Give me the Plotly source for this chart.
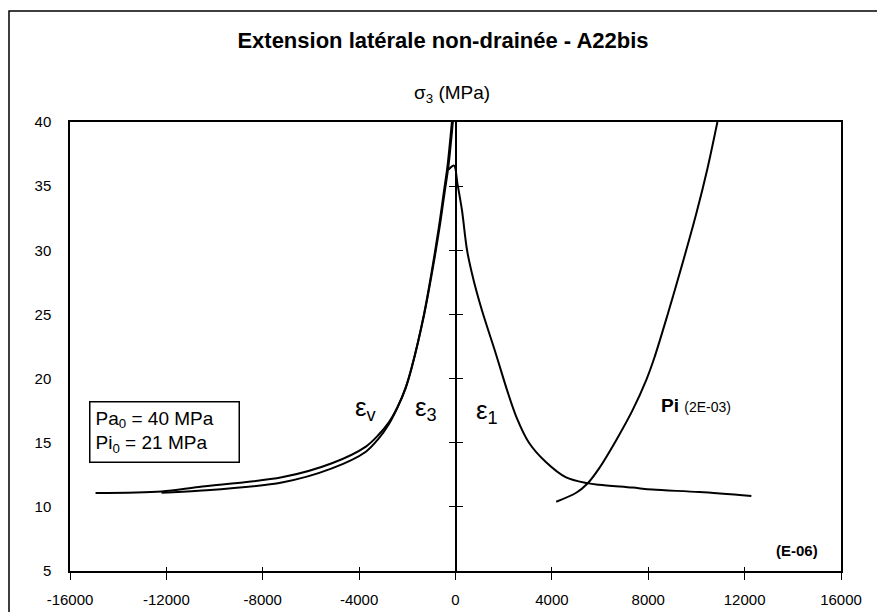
import plotly.graph_objects as go

# ---------------- data ----------------
eps_v_x = [-14940, -12200, -10660, -7210, -5130, -3720, -3200, -2760, -2400, -2060, -1810, -1310, -1000, -690, -480, -330, -150]
eps_v_y = [11.08, 11.2, 11.55, 12.3, 13.4, 14.7, 15.6, 16.6, 17.8, 19.3, 20.9, 25.0, 28.2, 31.8, 34.6, 36.6, 40.0]

eps_3_x = [-12200, -10660, -7210, -5130, -3720, -3200, -2780, -2420, -2070, -1815, -1300, -980, -660, -445, -290, -110]
eps_3_y = [11.1, 11.25, 11.9, 13.0, 14.3, 15.3, 16.4, 17.7, 19.3, 20.9, 25.0, 28.2, 31.8, 34.6, 36.6, 40.0]

eps_1_x = [-280, -60, 80, 270, 480, 760, 1100, 1680, 2140, 2550, 3050, 3750, 4590, 5470, 5960, 7340, 8170, 10120, 12280]
eps_1_y = [36.3, 36.6, 35.2, 33.1, 30.0, 27.6, 25.3, 21.9, 19.1, 16.9, 15.0, 13.5, 12.3, 11.85, 11.72, 11.5, 11.35, 11.15, 10.85]

pi_x = [4180, 5010, 5470, 5960, 6670, 7340, 7920, 8250, 8790, 9410, 10000, 10460, 10870]
pi_y = [10.4, 11.1, 11.8, 13.0, 15.2, 17.5, 19.9, 21.6, 24.9, 28.9, 32.9, 36.4, 40.0]

x_ticks = [-16000, -12000, -8000, -4000, 0, 4000, 8000, 12000, 16000]
x_tick_labels = ["-16000", "-12000", "-8000", "-4000", "0", "4000", "8000", "12000", "16000"]
y_ticks = [5, 10, 15, 20, 25, 30, 35, 40]
y_axis_cross_ticks = [10, 15, 20, 25, 30, 35]

title_text = "<b>Extension latérale non-drainée - A22bis</b>"
y_title = "σ<sub>3</sub> (MPa)"
box_text = "Pa<sub>0</sub> = 40 MPa<br>Pi<sub>0</sub> = 21 MPa"

# ---------------- layout geometry (pixels) ----------------
W, H = 885, 612
OFF = 8  # page body margin: figure is drawn 8px in from the window corner
PLOT_L, PLOT_R, PLOT_T, PLOT_B = 70, 841, 122, 571  # in window pixels
ML, MT = PLOT_L - OFF, PLOT_T - OFF
MR, MB = W - (PLOT_R - OFF), H - (PLOT_B - OFF)
PW, PH = W - ML - MR, H - MT - MB
FONT = "Liberation Sans, Arial, sans-serif"

def px_x(p):
    return (p - OFF - ML) / PW

def px_y(p):
    return (H - MB - (p - OFF)) / PH

line = dict(color="black", width=2, shape="spline", smoothing=0.9)

fig = go.Figure()
fig.add_trace(go.Scatter(x=eps_v_x, y=eps_v_y, mode="lines", line=line, name="εv"))
fig.add_trace(go.Scatter(x=eps_3_x, y=eps_3_y, mode="lines", line=line, name="ε3"))
fig.add_trace(go.Scatter(x=eps_1_x, y=eps_1_y, mode="lines", line=line, name="ε1"))
fig.add_trace(go.Scatter(x=pi_x, y=pi_y, mode="lines", line=line, name="Pi"))
# empty traces to host the overlay axes (cross ticks)
fig.add_trace(go.Scatter(x=[], y=[], xaxis="x2", yaxis="y", showlegend=False))
fig.add_trace(go.Scatter(x=[], y=[], xaxis="x", yaxis="y2", showlegend=False))
fig.add_trace(go.Scatter(x=[], y=[], xaxis="x", yaxis="y3", showlegend=False))

tickfont = dict(family=FONT, size=15, color="black")

fig.update_layout(
    width=W, height=H,
    margin=dict(l=ML, r=MR, t=MT, b=MB, autoexpand=False),
    paper_bgcolor="white", plot_bgcolor="white",
    showlegend=False,
    font=dict(family=FONT, color="black"),
    title=dict(text=title_text, x=(443 - OFF) / W, xanchor="center", xref="container",
               y=1 - (40 - OFF) / H, yanchor="middle", yref="container",
               font=dict(family=FONT, size=22, color="black")),
    xaxis=dict(range=[-16000, 16000], tickvals=x_ticks, ticktext=x_tick_labels,
               ticks="outside", ticklen=7,
               tickwidth=1.3, tickcolor="black", showline=True, linecolor="black",
               linewidth=1.5, mirror=True, showgrid=False, zeroline=False,
               tickfont=tickfont, ticklabelstandoff=7, automargin=False),
    xaxis2=dict(overlaying="x", matches="x", anchor="y", side="bottom",
                tickvals=x_ticks[1:-1], ticks="inside", ticklen=4, tickwidth=1.3,
                tickcolor="black", showticklabels=False, showline=False,
                showgrid=False, zeroline=False, automargin=False),
    yaxis=dict(range=[5, 40], tickvals=y_ticks, ticks="", showline=True,
               linecolor="black", linewidth=1.5, mirror=True, showgrid=False,
               zeroline=False, tickfont=tickfont, ticklabelstandoff=14, automargin=False),
    yaxis2=dict(overlaying="y", matches="y", anchor="free", position=0.5, side="left",
                tickvals=y_axis_cross_ticks, ticks="outside", ticklen=6, tickwidth=1.3,
                tickcolor="black", showticklabels=False, showline=True,
                linecolor="black", linewidth=1.5, showgrid=False, zeroline=False,
                automargin=False),
    yaxis3=dict(overlaying="y", matches="y", anchor="free", position=0.5, side="right",
                tickvals=y_axis_cross_ticks, ticks="outside", ticklen=6, tickwidth=1.3,
                tickcolor="black", showticklabels=False, showline=False,
                showgrid=False, zeroline=False, automargin=False),
)

# outer chart border
fig.add_shape(type="rect", xref="paper", yref="paper",
              x0=px_x(OFF + 1), x1=px_x(880), y0=px_y(660), y1=px_y(11),
              line=dict(color="black", width=1.5), layer="below")

anns = [
    dict(text=y_title, xref="paper", yref="paper", x=px_x(452), y=px_y(94),
         font=dict(size=19)),
    dict(text="ε<sub>v</sub>", x=-3720, y=17.7, font=dict(size=26)),
    dict(text="ε<sub>3</sub>", x=-1230, y=17.7, font=dict(size=26)),
    dict(text="ε<sub>1</sub>", x=1310, y=17.4, font=dict(size=26)),
    dict(text="<b>Pi</b> <span style='font-size:14px'>(2E-03)</span>", x=10000, y=17.9,
         font=dict(size=19)),
    dict(text="<b>(E-06)</b>", x=14190, y=6.6, font=dict(size=15)),
    dict(text=box_text, x=-12070, y=15.8, align="left", font=dict(size=19),
         width=138, bordercolor="black", borderwidth=1.5, borderpad=5, bgcolor="white"),
]
for a in anns:
    a.setdefault("xref", "x")
    a.setdefault("yref", "y")
    a["showarrow"] = False
    a["xanchor"] = "center"
    a["yanchor"] = "middle"
    a["font"] = dict(family=FONT, color="black", **a["font"])
    fig.add_annotation(**a)

fig.write_html("out.html")
